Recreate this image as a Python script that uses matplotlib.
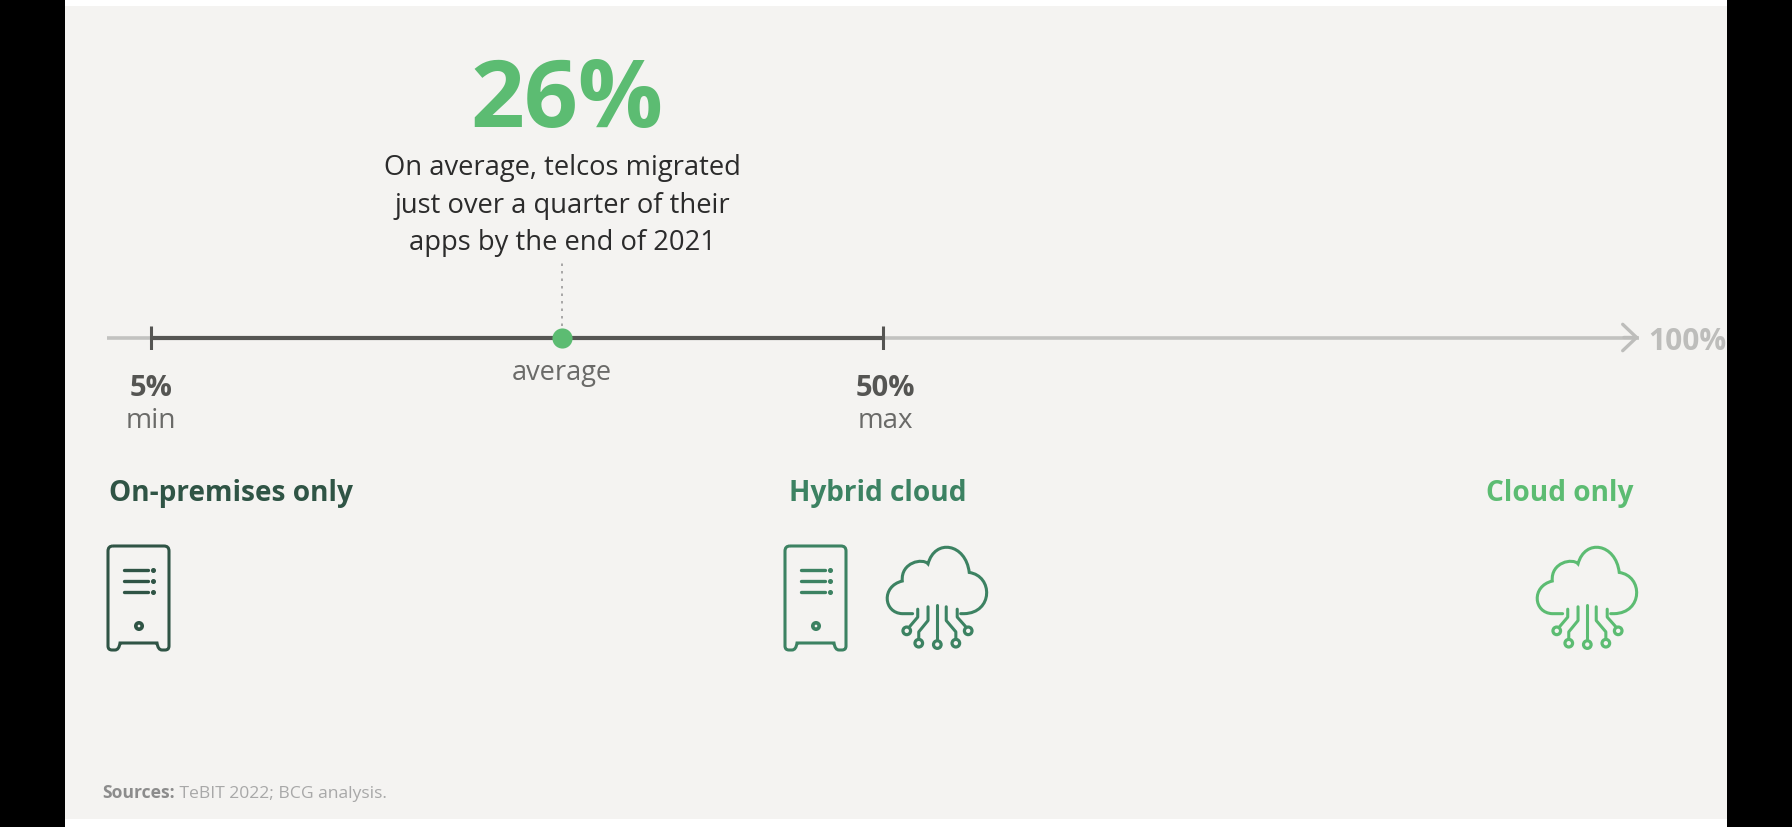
import matplotlib
matplotlib.use("Agg")
import matplotlib.pyplot as plt
import numpy as np
from matplotlib.path import Path
from matplotlib.patches import PathPatch, Rectangle, Circle

W, H = 1792, 828
PANEL = "#f4f3f1"
LIGHT_GREEN = "#5cbc72"
MID_GREEN = "#3c8262"
DARK_GREEN = "#2f5445"

# chart values
axis_labels = ["5%", "average", "50%", "100%"]
min_value = 5
avg_value = 26
max_value = 50
end_value = 100
headline = "26%"
body_lines = ["On average, telcos migrated", "just over a quarter of their", "apps by the end of 2021"]
model_names = ["On-premises only", "Hybrid cloud", "Cloud only"]

# the picture's axis is not linear, so it gets a piecewise scale
scale_values = [0, 5, 26, 50, 100]
scale_pixels = [107, 151, 562, 883, 1639]


def forward(v):
    return np.interp(v, scale_values, scale_pixels)


def inverse(p):
    return np.interp(p, scale_pixels, scale_values)


def server(ax, x0, y0, color):
    # y0 is the top of the box, 61 x 104 px
    x1, y1 = x0 + 61, y0 + 104
    r = 5
    verts = [(x0 + r, y0), (x1 - r, y0), (x1, y0), (x1, y0 + r), (x1, y1 - 4), (x1, y1), (x1 - 4, y1),
             (x1 - 7, y1), (x1 - 11, y1), (x1 - 12, y1 - 7), (x0 + 12, y1 - 7), (x0 + 11, y1), (x0 + 7, y1),
             (x0 + 4, y1), (x0, y1), (x0, y1 - 4), (x0, y0 + r), (x0, y0), (x0 + r, y0)]
    codes = [Path.MOVETO, Path.LINETO, Path.CURVE3, Path.CURVE3, Path.LINETO, Path.CURVE3, Path.CURVE3,
             Path.LINETO, Path.CURVE3, Path.CURVE3, Path.LINETO, Path.CURVE3, Path.CURVE3,
             Path.LINETO, Path.CURVE3, Path.CURVE3, Path.LINETO, Path.CURVE3, Path.CURVE3]
    ax.add_patch(PathPatch(Path(verts, codes), fill=False, ec=color, lw=2.2))
    for dy in [24, 35, 46]:
        ax.plot([x0 + 16, x0 + 40], [y0 + dy, y0 + dy], color=color, lw=2.4, solid_capstyle="round")
        ax.plot([x0 + 45], [y0 + dy], "o", color=color, ms=2.6)
    ax.add_patch(Circle((x0 + 31, y0 + 80), 3.2, fill=False, ec=color, lw=2.6))


def cloud(ax, x0, y0, color):
    # sketched from the crop at 3x
    k = 1.03 / 3

    def p(x, y):
        return (x0 + (x - 68) * k, y0 + (y - 45) * k)

    verts = [p(160, 245), p(130, 245), p(75, 243), p(68, 165), p(130, 150), p(125, 95), p(190, 82), p(205, 100),
             p(225, 25), p(315, 40), p(325, 125), p(395, 135), p(395, 243), p(310, 245), p(300, 245)]
    codes = [Path.MOVETO, Path.LINETO, Path.CURVE4, Path.CURVE4, Path.CURVE4, Path.CURVE4, Path.CURVE4, Path.CURVE4,
             Path.CURVE4, Path.CURVE4, Path.CURVE4, Path.CURVE4, Path.CURVE4, Path.CURVE4, Path.LINETO]
    ax.add_patch(PathPatch(Path(verts, codes), fill=False, ec=color, lw=2.2, capstyle="round"))

    stems = [[(232, 220), (232, 322)],
             [(205, 225), (205, 265), (178, 298), (178, 318)],
             [(175, 232), (175, 255), (152, 282)],
             [(258, 225), (258, 265), (286, 298), (286, 318)],
             [(290, 232), (290, 255), (314, 282)]]
    for s in stems:
        pts = [p(*q) for q in s]
        ax.plot([q[0] for q in pts], [q[1] for q in pts], color=color, lw=2.2, solid_capstyle="round")
    for c in [(232, 335), (178, 331), (143, 295), (286, 331), (322, 295)]:
        ax.add_patch(Circle(p(*c), 3.8, fill=False, ec=color, lw=2.3))


plt.rcParams["font.family"] = ["Open Sans", "DejaVu Sans"]

fig = plt.figure(figsize=(W / 100, H / 100), dpi=100, facecolor="white")

# whole figure in pixels, for the panel, the texts and the icons
bg = fig.add_axes([0, 0, 1, 1])
bg.set_xlim(0, W)
bg.set_ylim(H, 0)
bg.axis("off")
bg.add_patch(Rectangle((0, 0), 65, H, fc="black", ec="none"))
bg.add_patch(Rectangle((1727, 0), W - 1727, H, fc="black", ec="none"))
bg.add_patch(Rectangle((65, 7), 1662, 813, fc=PANEL, ec="none"))

bg.text(567, 127, headline, color=LIGHT_GREEN, fontsize=68, fontweight="bold", ha="center", va="baseline")
for txt, y in zip(body_lines, [175, 213, 250]):
    bg.text(562, y, txt, color="#2b2b2b", fontsize=19.7, ha="center", va="baseline")

bg.text(231, 501, model_names[0], color=DARK_GREEN, fontsize=20.2, fontweight="bold", ha="center", va="baseline")
bg.text(878, 501, model_names[1], color=MID_GREEN, fontsize=20.2, fontweight="bold", ha="center", va="baseline")
bg.text(1560, 501, model_names[2], color=LIGHT_GREEN, fontsize=20.2, fontweight="bold", ha="center", va="baseline")

server(bg, 108, 547, DARK_GREEN)
server(bg, 785, 547, MID_GREEN)
cloud(bg, 881, 546, MID_GREEN)
cloud(bg, 1531, 546, LIGHT_GREEN)

src = bg.text(102, 798, "Sources:", color="#8c8c8c", fontsize=12.6, fontweight="bold", ha="left", va="baseline")
bg.annotate(" TeBIT 2022; BCG analysis.", xy=(1, 0), xycoords=src, color="#a8a8a8", fontsize=12.6,
            ha="left", va="bottom")

# number line, 24 px tall, centred on y = 338.5
ax = fig.add_axes([107 / W, 1 - 350.5 / H, (1639 - 107) / W, 24 / H])
ax.patch.set_alpha(0)
ax.set_xscale("function", functions=(forward, inverse))
ax.set_xlim(0, end_value)
ax.set_ylim(-1, 1)
ax.axis("off")

ax.plot([0, end_value], [0, 0], color="#c2c2c0", lw=2.6, solid_capstyle="butt", zorder=1)
ax.plot([min_value, max_value], [0, 0], color="#555553", lw=3.0, solid_capstyle="butt", zorder=2)
ax.vlines([min_value, max_value], -1, 1, color="#555553", lw=2.2, zorder=3)
ax.vlines(avg_value, 1, 6.4, color="#9a9a9a", lw=1.2, linestyles=(0, (1.5, 3)), clip_on=False)
ax.plot([avg_value], [0], "o", color=LIGHT_GREEN, ms=14.5, mec="none", zorder=4, clip_on=False)
ax.annotate("", xy=(end_value, 0), xytext=(99, 0),
            arrowprops=dict(arrowstyle="->,head_length=1.0,head_width=0.95", color="#bdbdbb", lw=2.4,
                            mutation_scale=10, shrinkA=0, shrinkB=0))


def mark_label(text, value, baseline, color, size, weight="normal", dx=0, ha="center"):
    # baseline is given in pixels below the line
    ax.annotate(text, xy=(value, 0), xytext=(dx, -baseline), textcoords="offset pixels", color=color,
                fontsize=size, fontweight=weight, ha=ha, va="baseline", annotation_clip=False)


mark_label(axis_labels[0], min_value, 58, "#555553", 21, "bold")
mark_label("min", min_value, 90, "#6a6a68", 20.3)
mark_label(axis_labels[1], avg_value, 42, "#6a6a68", 19.5)
mark_label(axis_labels[2], max_value, 58, "#555553", 21, "bold", dx=2)
mark_label("max", max_value, 90, "#6a6a68", 20, dx=2)
mark_label(axis_labels[3], end_value, 12, "#bdbdbb", 21.5, "bold", dx=9, ha="left")

fig.savefig("out.png", dpi=100, facecolor=fig.get_facecolor())
